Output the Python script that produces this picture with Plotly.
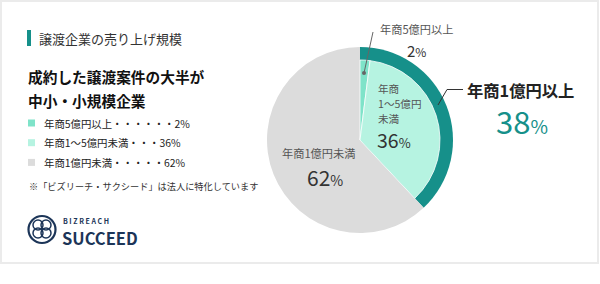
import plotly.graph_objects as go

W, H = 600, 284

# Data
ring_labels = ["年商1億円以上", "年商1億円未満"]
ring_values = [38, 62]
inner_labels = ["年商5億円以上", "年商1～5億円未満", "年商1億円未満"]
inner_values = [2, 36, 62]
legend_texts = ["年商5億円以上・・・・・・2%", "年商1～5億円未満・・・36%", "年商1億円未満・・・・・62%"]
inner_label_lines = ["年商", "1～5億円", "未満"]

TEAL = "#16908a"
MINT = "#7fe3c9"
LIGHT = "#b6f3e1"
GRAY = "#dcdcdc"
NAVY = "#1c3558"
FONT = "Noto Sans CJK JP"


def px(x):
    return x / W


def py(y):
    return 1 - y / H


def dom(cx, cy, r):
    return dict(x=[px(cx - r), px(cx + r)], y=[py(cy + r), py(cy - r)])


CX, CY = 360, 140
fig = go.Figure()
fig.add_trace(go.Pie(
    labels=ring_labels, values=ring_values, sort=False, direction="clockwise",
    rotation=0, domain=dom(CX, CY, 93), textinfo="none", hoverinfo="skip",
    marker=dict(colors=[TEAL, GRAY], line=dict(color="white", width=0)),
    showlegend=False,
))
fig.add_trace(go.Pie(
    labels=inner_labels, values=inner_values, sort=False, direction="clockwise",
    rotation=0, domain=dom(CX, CY, 80), textinfo="none", hoverinfo="skip",
    marker=dict(colors=[MINT, LIGHT, "rgba(0,0,0,0)"],
                line=dict(color="white", width=[0.8, 0.8, 0])),
    showlegend=False,
))

ann = []
shapes = []


def text(x, y, t, size, color="#333", bold=False, anchor="left", yanchor="middle", pad=1):
    if bold:
        t = "<b>" + t + "</b>"
    ann.append(dict(x=px(x), y=py(y), xref="paper", yref="paper", text=t, showarrow=False,
                    xanchor=anchor, yanchor=yanchor, borderpad=pad,
                    font=dict(family=FONT, size=size, color=color)))


# card border
shapes.append(dict(type="rect", xref="paper", yref="paper", x0=px(1), x1=px(598), y0=py(263), y1=py(1),
                   line=dict(color="#ebebeb", width=2), fillcolor="rgba(0,0,0,0)", layer="below"))

# title bar
shapes.append(dict(type="rect", xref="paper", yref="paper", x0=px(27), x1=px(31), y0=py(46), y1=py(30),
                   line=dict(width=0), fillcolor=TEAL))
text(37, 38, "譲渡企業の売り上げ規模", 13, "#333")
text(26, 76, "成約した譲渡案件の大半が", 14.7, "#111", bold=True)
text(26, 100, "中小・小規模企業", 14.7, "#111", bold=True)

leg_colors = [MINT, LIGHT, GRAY]
for i, (t, c) in enumerate(zip(legend_texts, leg_colors)):
    y = 123 + i * 19.7
    shapes.append(dict(type="rect", xref="paper", yref="paper", x0=px(28), x1=px(35), y0=py(y + 3.5), y1=py(y - 3.5),
                       line=dict(width=0), fillcolor=c))
    text(42, y, t, 10.4, "#222")

text(27, 186, "※「ビズリーチ・サクシード」は法人に特化しています", 9.2, "#333")

# logo emblem
shapes.append(dict(type="circle", xref="paper", yref="paper", x0=px(28.5), x1=px(55.5), y0=py(243), y1=py(216),
                   line=dict(color=NAVY, width=2.2)))
for (ex, ey) in [(38, 225), (46, 225), (38, 233), (46, 233)]:
    shapes.append(dict(type="circle", xref="paper", yref="paper", x0=px(ex - 5), x1=px(ex + 5), y0=py(ey + 5), y1=py(ey - 5),
                       line=dict(color=NAVY, width=1.5)))
text(62, 221, "B I Z R E A C H", 7, NAVY, bold=True, pad=0)
text(61, 238, "SUCCEED", 16.5, NAVY, bold=True, pad=0)

# right-side labels
text(378, 29, "年商5億円以上", 11.2, "#555")
text(417, 50, "2<span style='font-size:12px'>%</span>", 15, "#333", anchor="center")
shapes.append(dict(type="line", xref="paper", yref="paper", x0=px(373), y0=py(32), x1=px(364), y1=py(73),
                   line=dict(color="#666", width=1)))
shapes.append(dict(type="circle", xref="paper", yref="paper", x0=px(362), x1=px(366), y0=py(75), y1=py(71),
                   line=dict(width=0), fillcolor="#666"))

for i, line in enumerate(inner_label_lines):
    text(377, 88.5 + i * 15, line, 10.6, "#555", pad=0)
text(376, 139.5, "36<span style='font-size:13px'>%</span>", 19.5, "#333", pad=0)

shapes.append(dict(type="path", xref="paper", yref="paper",
                   path=f"M {px(438)} {py(105)} L {px(447)} {py(89.5)} L {px(463)} {py(89.5)}",
                   line=dict(color="#333", width=1)))
text(465, 90, "年商1億円以上", 16.3, "#222", bold=True)
text(522, 120, "38<span style='font-size:19px'>%</span>", 31, TEAL, anchor="center")

text(318, 153, "年商1億円未満", 11.2, "#555", anchor="center")
text(325, 177, "62<span style='font-size:14px'>%</span>", 21, "#333", anchor="center")

fig.update_layout(width=W, height=H, margin=dict(l=0, r=0, t=0, b=0),
                  paper_bgcolor="white", plot_bgcolor="white",
                  annotations=ann, shapes=shapes, showlegend=False)
fig.write_html("out.html")
